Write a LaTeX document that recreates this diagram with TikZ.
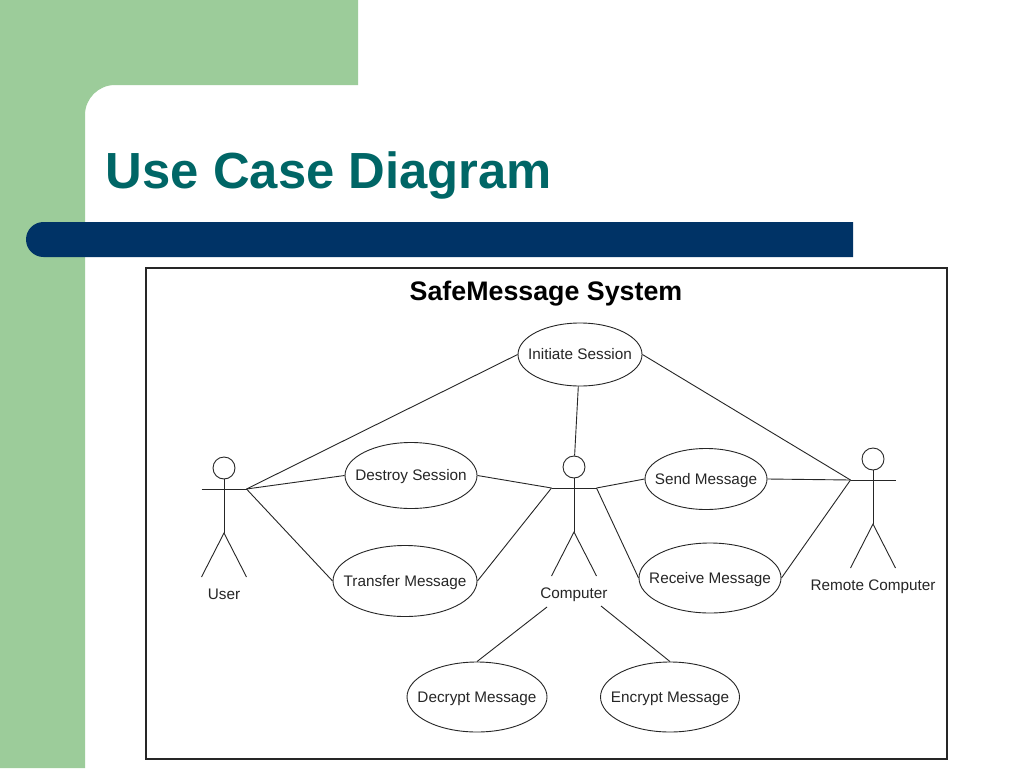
\documentclass[tikz,border=0pt]{standalone}
\usepackage{fontspec}
\setmainfont{Liberation Sans}
\usetikzlibrary{positioning}
\usetikzlibrary{shapes.geometric}
\definecolor{sidegreen}{HTML}{9CCC9A}
\definecolor{barblue}{HTML}{003366}
\definecolor{titleteal}{HTML}{006666}
\definecolor{umlline}{HTML}{262626}
\tikzset{
  usecase/.style={draw=umlline,ellipse,line width=0.9pt,inner xsep=-20pt,inner ysep=0pt,text=umlline,text height=11pt,text depth=1pt,font=\fontsize{15.3}{17}\selectfont},
  actorhead/.style={draw=umlline,circle,line width=0.9pt,minimum size=22pt,inner sep=0pt},
  actorlabel/.style={inner sep=0pt,text=umlline,text height=11pt,text depth=1pt,font=\fontsize{15.3}{17}\selectfont},
  link/.style={draw=umlline,line width=0.9pt},
}
% stick figure: name, x, y of the head, label
\newcommand{\umlactor}[4]{
  \node[actorhead] (#1) at (#2,#3) {};
  \coordinate (#1left) at (#2-22.5,#3+21);
  \coordinate (#1right) at (#2+22.5,#3+21);
  \coordinate (#1hip) at (#2,#3+65);
  \coordinate (#1footl) at (#2-22.5,#3+109);
  \coordinate (#1footr) at (#2+22.5,#3+109);
  \node[actorlabel] (#1label) at (#2,#3+126) {#4};
  \draw[link] (#1) -- (#1hip);
  \draw[link] (#1left) -- (#1right);
  \draw[link] (#1footl) -- (#1hip) -- (#1footr);
}
\begin{document}
\begin{tikzpicture}[x=1pt,y=-1pt]
\useasboundingbox (0,0) rectangle (1024,768);
% slide background
\fill[white] (0,0) rectangle (1024,768);
\fill[sidegreen] (0,0) -- (358,0) -- (358,85) [rounded corners=30pt] -- (85,85) [sharp corners] -- (85,768) -- (0,768) -- cycle;
\fill[barblue] (853,222) -- (43.5,222) arc[start angle=90,end angle=270,radius=17.5pt] -- (853,257) -- cycle;
\node[text=titleteal,inner sep=0pt,font=\fontsize{50.8}{56}\selectfont\bfseries] (slidetitle) at (329,175.5) {Use Case Diagram};
% system frame
\node[draw=umlline,line width=1.2pt,minimum width=801pt,minimum height=491pt,inner sep=0pt] (systemframe) at (546.5,513.5) {};
\node[inner sep=0pt,text=black,font=\fontsize{26.8}{30}\selectfont\bfseries] (systemtitle) at (546,294) {SafeMessage System};
% actors
\umlactor{user}{224}{468}{User}
\umlactor{computer}{574}{467}{Computer}
\umlactor{remote}{873}{459}{Remote Computer}
% use cases
\node[usecase,minimum width=124pt,minimum height=63pt] (initiate) at (580,354.5) {Initiate Session};
\node[usecase,minimum width=132pt,minimum height=66pt] (destroy) at (411,475.5) {Destroy Session};
\node[usecase,minimum width=144pt,minimum height=71pt] (transfer) at (405,581) {Transfer Message};
\node[usecase,minimum width=122pt,minimum height=61pt] (send) at (706,479) {Send Message};
\node[usecase,minimum width=142pt,minimum height=70pt] (receive) at (710,578) {Receive Message};
\node[usecase,minimum width=140pt,minimum height=70pt] (decrypt) at (477,697) {Decrypt Message};
\node[usecase,minimum width=139pt,minimum height=70pt] (encrypt) at (670,697) {Encrypt Message};
% free ends under the Computer label
\coordinate (computerbl) at (547,607);
\coordinate (computerbr) at (601,606);
% connectors
\draw[link] (initiate.west) -- (userright);
\draw[link] (initiate) -- (computer);
\draw[link] (initiate.east) -- (remoteleft);
\draw[link] (destroy.west) -- (userright);
\draw[link] (destroy.east) -- (computerleft);
\draw[link] (transfer.west) -- (userright);
\draw[link] (transfer.east) -- (computerleft);
\draw[link] (send.west) -- (computerright);
\draw[link] (send.east) -- (remoteleft);
\draw[link] (receive.west) -- (computerright);
\draw[link] (receive.east) -- (remoteleft);
\draw[link] (decrypt.north) -- (computerbl);
\draw[link] (encrypt.north) -- (computerbr);
\end{tikzpicture}
\end{document}
